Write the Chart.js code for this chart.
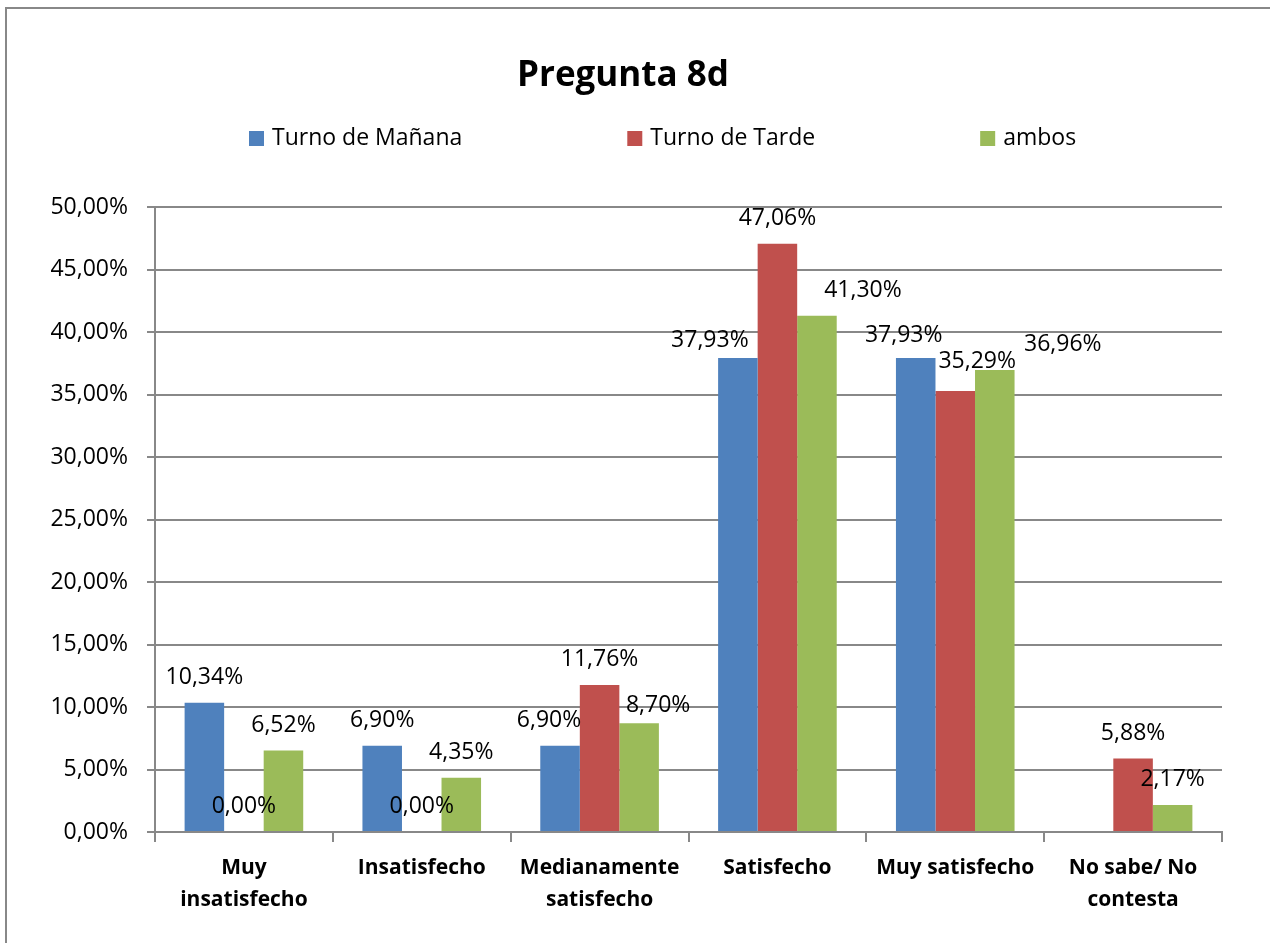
<!DOCTYPE html>
<html>
<head>
<meta charset="utf-8">
<title>Pregunta 8d</title>
<script src="https://cdn.jsdelivr.net/npm/chart.js@4.4.1/dist/chart.umd.min.js"></script>
<style>
  body { margin: 0; background: #fff; overflow: hidden; }
  #wrap { position: relative; width: 1270px; height: 943px; overflow: hidden; }
  #frame { position: absolute; left: 5px; top: 7px; width: 1300px; height: 1000px;
           border-left: 2px solid #888; border-top: 2px solid #888; pointer-events: none; }
</style>
</head>
<body>
<div id="wrap">
  <canvas id="myChart" width="1270" height="943"></canvas>
  <div id="frame"></div>
</div>
<script>
// data
var categorias = [['Muy', 'insatisfecho'], 'Insatisfecho', ['Medianamente', 'satisfecho'],
                  'Satisfecho', 'Muy satisfecho', ['No sabe/ No', 'contesta']];
var series = ['Turno de Mañana', 'Turno de Tarde', 'ambos'];
var manana = [10.34, 6.90, 6.90, 37.93, 37.93, null];
var tarde = [0.00, 0.00, 11.76, 47.06, 35.29, 5.88];
var ambos = [6.52, 4.35, 8.70, 41.30, 36.96, 2.17];
var yTicks = [0, 5, 10, 15, 20, 25, 30, 35, 40, 45, 50];
var titulo = 'Pregunta 8d';

var colores = ['#4F81BD', '#C0504D', '#9BBB59'];
// small nudges Excel applied to some value labels [dx, dy]
var nudge = [
  [[0, 0], [0, 0], [-11, 0], [-28, 8], [-12, 3], [0, 0]],
  [[0, 0], [0, 0], [0, 0], [0, 0], [22, -4], [0, 0]],
  [[0, 0], [0, 0], [19, 8], [46, 0], [68, 0], [0, 0]]
];
var FONT = "'Open Sans', sans-serif";

function pct(v) {
  return v.toFixed(2).replace('.', ',') + '%';
}

var valueLabels = {
  id: 'valueLabels',
  afterDatasetsDraw: function (chart) {
    var ctx = chart.ctx;
    ctx.save();
    ctx.font = '23px ' + FONT;
    ctx.fillStyle = '#000';
    ctx.textAlign = 'center';
    ctx.textBaseline = 'alphabetic';
    chart.data.datasets.forEach(function (ds, i) {
      var meta = chart.getDatasetMeta(i);
      meta.data.forEach(function (bar, j) {
        var v = ds.data[j];
        if (v === null) return;
        var n = nudge[i][j];
        ctx.fillText(pct(v), bar.x + n[0], bar.y - 19 + n[1]);
      });
    });
    ctx.restore();
  }
};

// title and legend row (Excel style spacing)
var header = {
  id: 'header',
  afterDraw: function (chart) {
    var ctx = chart.ctx;
    ctx.save();
    ctx.fillStyle = '#000';
    ctx.textAlign = 'center';
    ctx.textBaseline = 'alphabetic';
    ctx.font = 'bold 35px ' + FONT;
    ctx.fillText(titulo, 623, 86);

    ctx.font = '23px ' + FONT;
    ctx.textBaseline = 'middle';
    ctx.textAlign = 'left';
    var x = 249, y = 138;
    chart.data.datasets.forEach(function (ds) {
      ctx.fillStyle = ds.backgroundColor;
      ctx.fillRect(x, y - 7, 15, 15);
      ctx.fillStyle = '#000';
      ctx.fillText(ds.label, x + 23, y);
      x += 23 + ctx.measureText(ds.label).width + 165;
    });
    ctx.restore();
  }
};

var ctx = document.getElementById('myChart').getContext('2d');
var myChart = new Chart(ctx, {
  type: 'bar',
  data: {
    labels: categorias,
    datasets: [
      { label: series[0], data: manana, backgroundColor: colores[0] },
      { label: series[1], data: tarde, backgroundColor: colores[1] },
      { label: series[2], data: ambos, backgroundColor: colores[2] }
    ]
  },
  options: {
    responsive: false,
    animation: false,
    devicePixelRatio: 1,
    layout: { padding: { left: 0, right: 48, top: 207, bottom: 0 } },
    datasets: { bar: { categoryPercentage: 0.667, barPercentage: 1.0 } },
    plugins: {
      legend: { display: false },
      tooltip: { enabled: false },
      title: { display: false }
    },
    scales: {
      x: {
        grid: { display: true, drawOnChartArea: false, offset: true, color: '#888', lineWidth: 2, tickLength: 10 },
        border: { color: '#888', width: 2 },
        ticks: { color: '#000', padding: 10, font: { family: FONT, size: 21, weight: 'bold', lineHeight: 1.52 } },
        afterFit: function (scale) { scale.height = 111; }
      },
      y: {
        min: 0,
        max: 50,
        afterBuildTicks: function (scale) {
          scale.ticks = yTicks.map(function (v) { return { value: v }; });
        },
        grid: { color: '#888', lineWidth: 2, tickLength: 8 },
        border: { color: '#888', width: 2 },
        ticks: {
          color: '#000',
          padding: 19,
          font: { family: FONT, size: 23 },
          callback: function (v) { return pct(v); }
        },
        afterFit: function (scale) { scale.width = 155; }
      }
    }
  },
  plugins: [valueLabels, header]
});
</script>
</body>
</html>
